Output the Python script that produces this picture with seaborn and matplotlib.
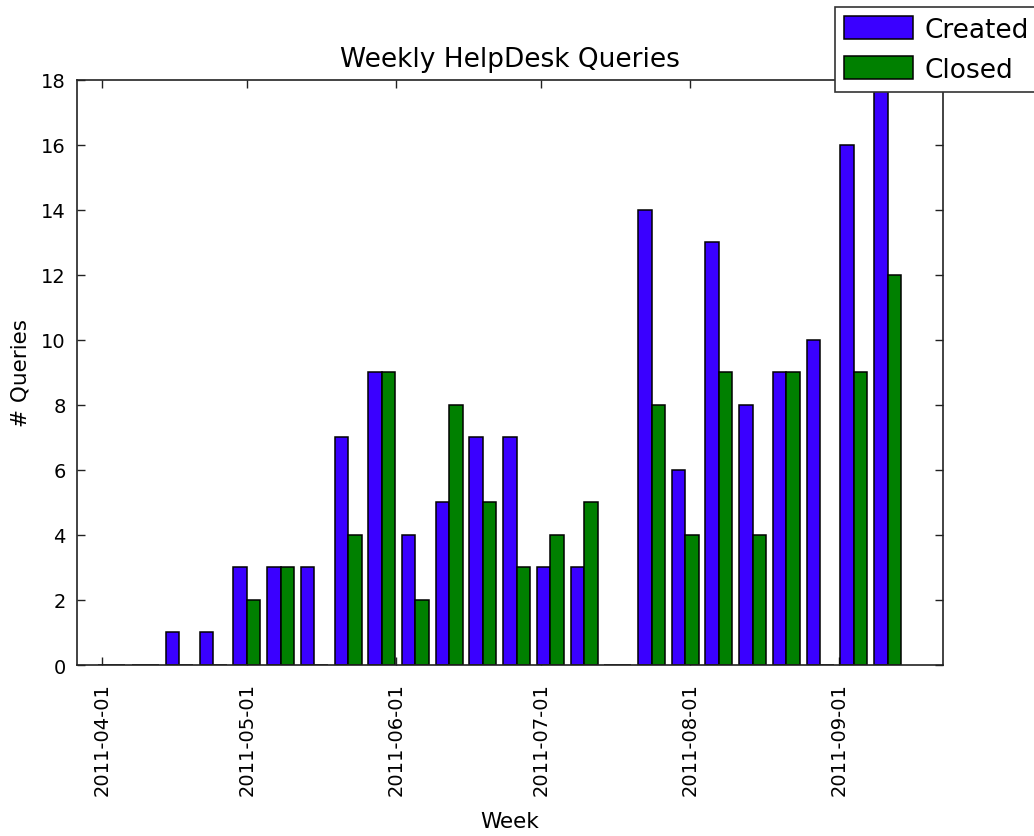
import matplotlib
matplotlib.use("Agg")
import matplotlib.pyplot as plt
import matplotlib.dates as mdates
import seaborn as sns
import pandas as pd

# Data (weekly, week ending Sunday)
weeks = ["2011-04-03", "2011-04-10", "2011-04-17", "2011-04-24", "2011-05-01",
         "2011-05-08", "2011-05-15", "2011-05-22", "2011-05-29", "2011-06-05",
         "2011-06-12", "2011-06-19", "2011-06-26", "2011-07-03", "2011-07-10",
         "2011-07-17", "2011-07-24", "2011-07-31", "2011-08-07", "2011-08-14",
         "2011-08-21", "2011-08-28", "2011-09-04", "2011-09-11"]
created = [0, 0, 1, 1, 3, 3, 3, 7, 9, 4, 5, 7, 7, 3, 3, 0, 14, 6, 13, 8, 9, 10, 16, 18]
closed = [0, 0, 0, 0, 2, 3, 0, 4, 9, 2, 8, 5, 3, 4, 5, 0, 8, 4, 9, 4, 9, 0, 9, 12]
series_names = ["Created", "Closed"]
series_colors = ["#3a00ff", "#008000"]
title = "Weekly HelpDesk Queries"
xlabel = "Week"
ylabel = "# Queries"

sns.set_style("ticks")
plt.rcParams["font.family"] = ["DejaVu Sans"]
plt.rcParams["text.color"] = "black"
plt.rcParams["axes.labelcolor"] = "black"
plt.rcParams["xtick.color"] = "black"
plt.rcParams["ytick.color"] = "black"

xnum = mdates.date2num(pd.to_datetime(weeks))
df = pd.DataFrame({
    "x": list(xnum) * 2,
    "value": created + closed,
    "Series": [series_names[0]] * len(weeks) + [series_names[1]] * len(weeks),
})

fig = plt.figure(figsize=(10.34, 8.37), dpi=100)
ax = fig.add_axes([0.0745, 0.2043, 0.8375, 0.6993])

sns.barplot(data=df, x="x", y="value", hue="Series", hue_order=series_names,
            palette=dict(zip(series_names, series_colors)), native_scale=True,
            width=0.8, saturation=1, errorbar=None, edgecolor="black",
            linewidth=1.1, ax=ax)

ax.set_xlim(mdates.date2num(pd.Timestamp("2011-03-26 18:00")),
            mdates.date2num(pd.Timestamp("2011-09-22 12:00")))
ax.set_ylim(0, 18)
ax.set_yticks(range(0, 19, 2))
ax.xaxis.set_major_locator(mdates.MonthLocator())
ax.xaxis.set_major_formatter(mdates.DateFormatter("%Y-%m-%d"))
ax.xaxis.set_minor_locator(plt.NullLocator())

for s in ax.spines.values():
    s.set_visible(True)
    s.set_color("#222222")
    s.set_linewidth(1.2)

ax.tick_params(axis="both", which="major", direction="in", length=6, width=1,
               top=True, right=True, labelsize=14, color="#222222",
               labelcolor="black")
ax.tick_params(axis="x", pad=12)
ax.tick_params(axis="y", pad=8)
plt.setp(ax.get_xticklabels(), rotation=90)

ax.set_title(title, fontsize=19, pad=10, color="black")
ax.set_xlabel(xlabel, fontsize=15.5, labelpad=12, color="black")
ax.set_ylabel(ylabel, fontsize=15.5, labelpad=8, color="black")

handles, labels = ax.get_legend_handles_labels()
if ax.get_legend() is not None:
    ax.get_legend().remove()
leg = ax.legend(handles, labels, loc="upper right",
                bbox_to_anchor=(1.004, 0.991), bbox_transform=fig.transFigure,
                fontsize=19, frameon=True, fancybox=False, framealpha=1,
                edgecolor="#333333", handlelength=2.6, handleheight=1.0,
                handletextpad=0.45, borderpad=0.35, labelspacing=0.5,
                borderaxespad=0)
leg.get_frame().set_linewidth(1.2)
for t in leg.get_texts():
    t.set_color("black")

fig.savefig("out.png", dpi=100)
